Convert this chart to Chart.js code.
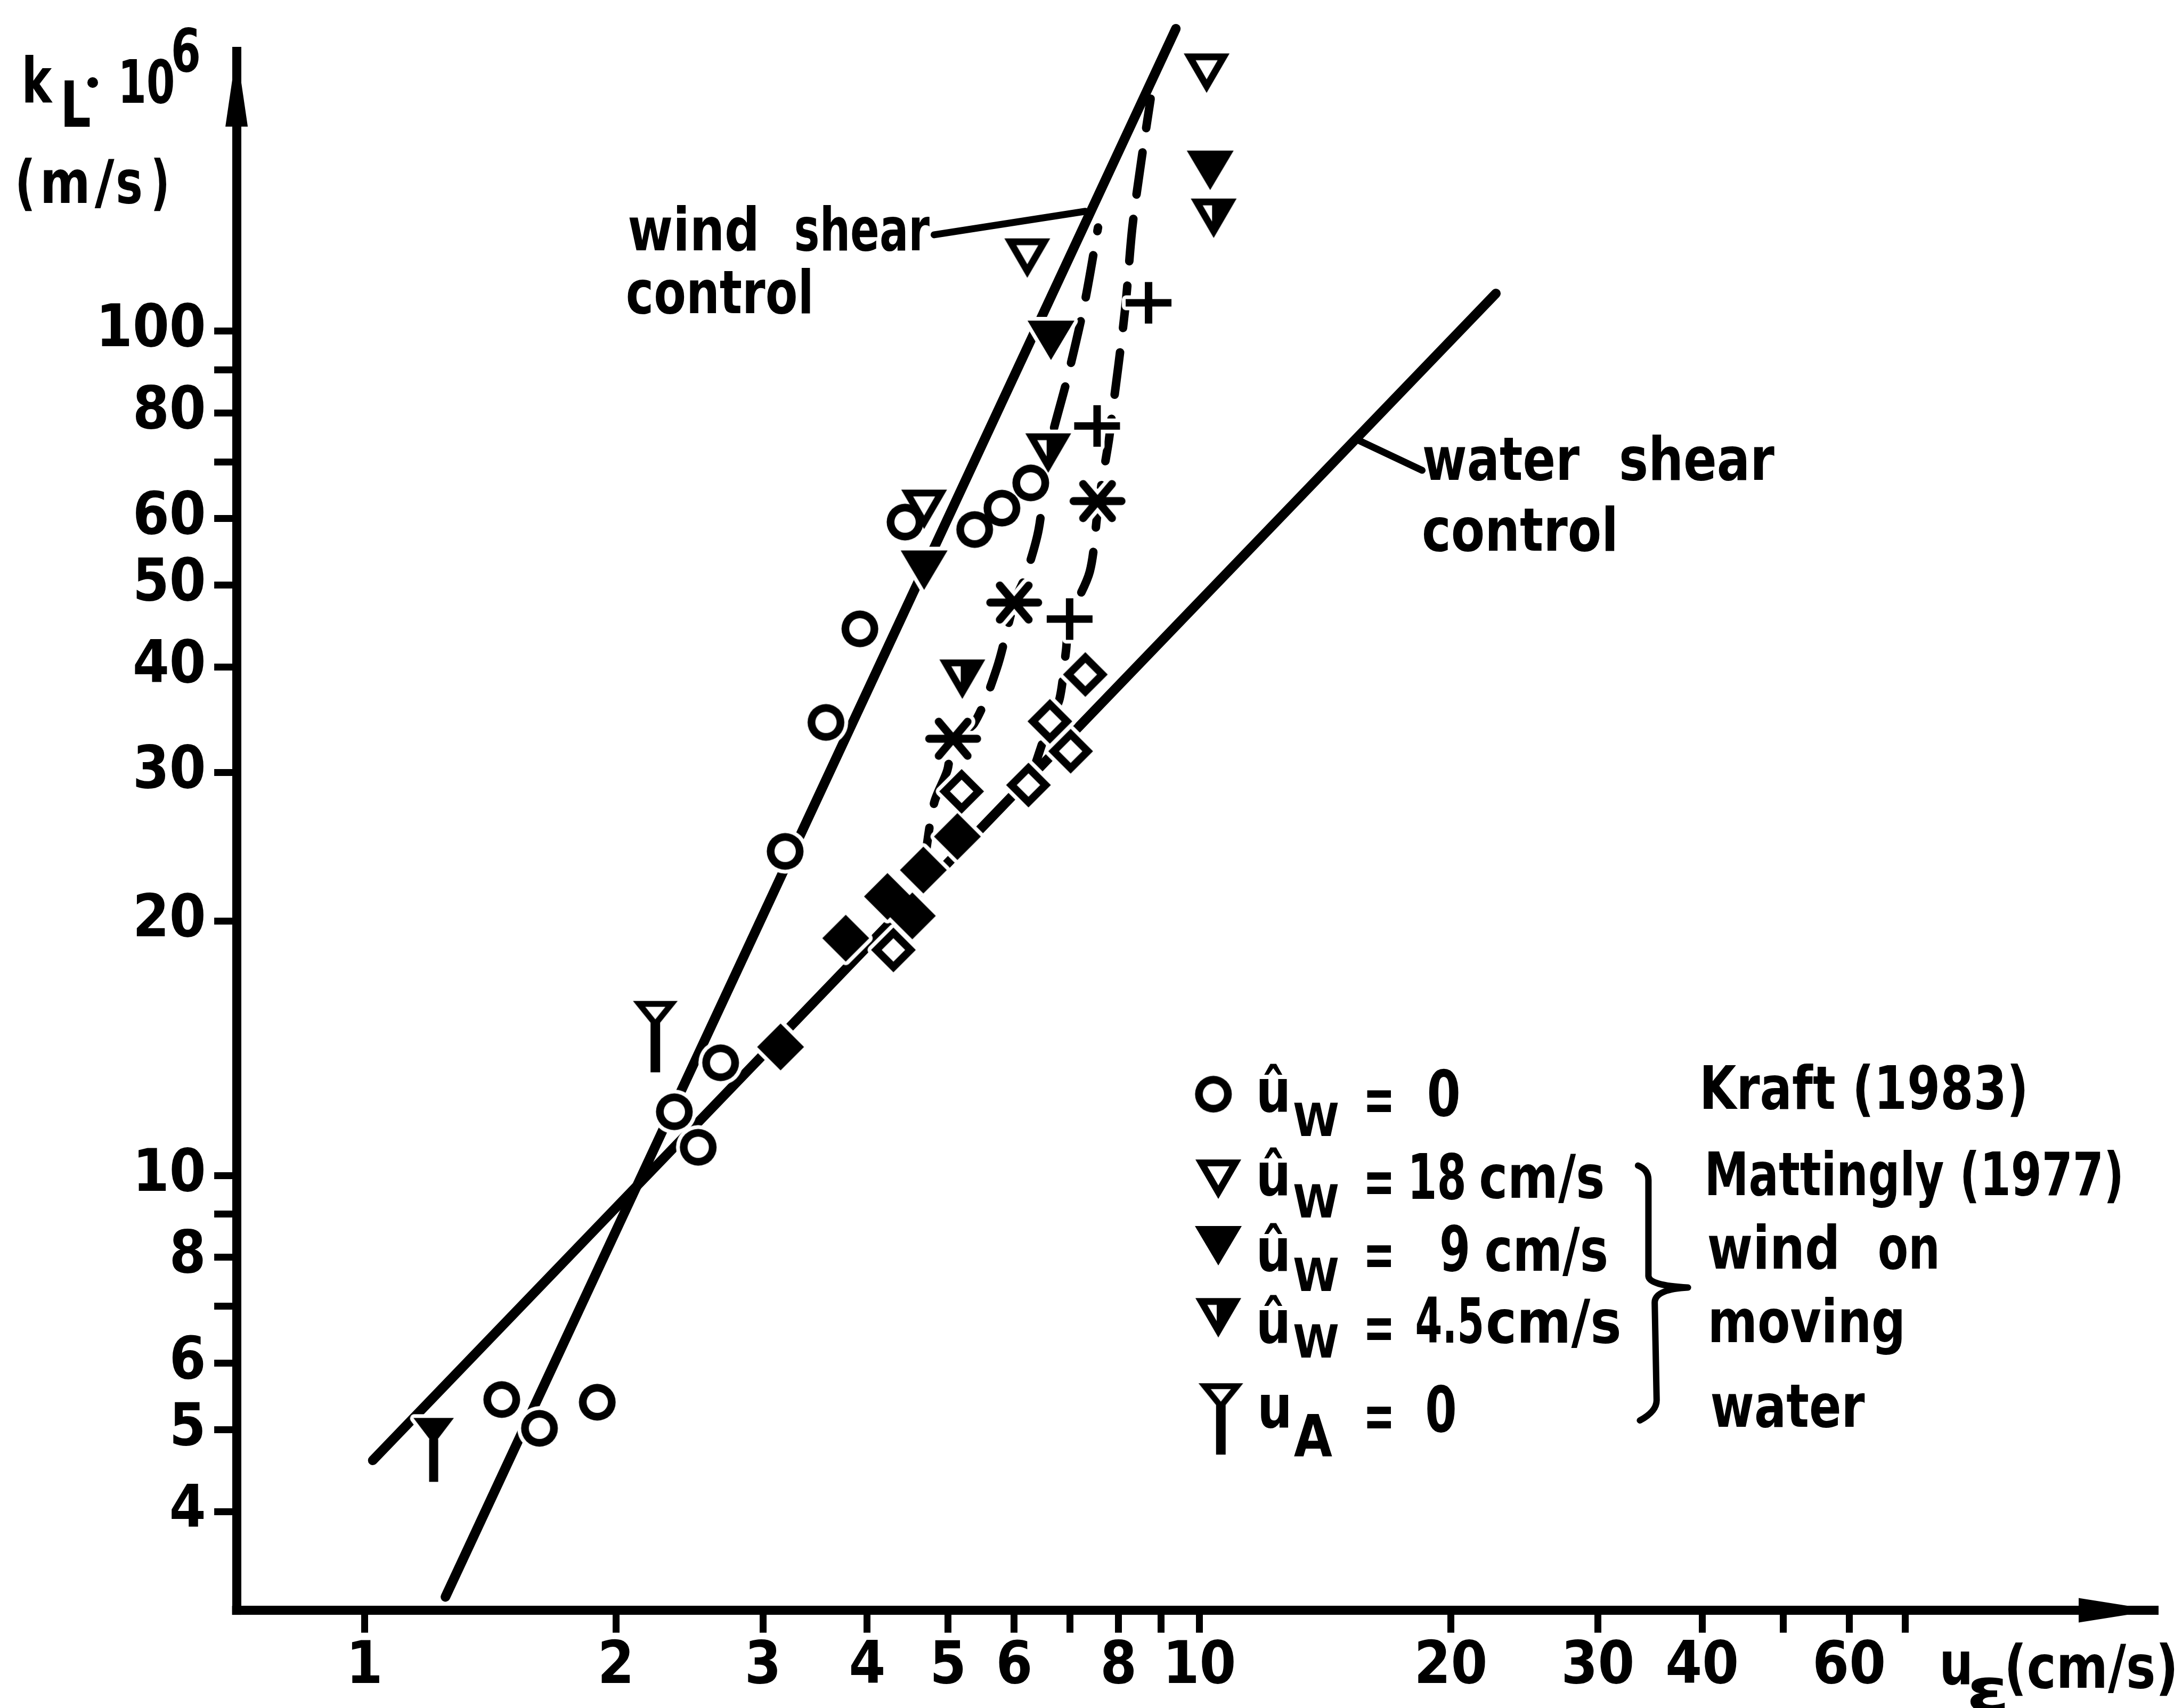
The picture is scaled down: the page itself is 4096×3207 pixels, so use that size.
<!DOCTYPE html>
<html>
<head>
<meta charset="utf-8">
<script src="https://cdn.jsdelivr.net/npm/chart.js@4.4.1/dist/chart.umd.min.js"></script>
<style>
  html, body { margin: 0; padding: 0; background: #fff; overflow: hidden; }
  #wrap { width: 4096px; height: 3207px; position: relative; }
</style>
</head>
<body>
<div id="wrap"><canvas id="c"></canvas></div>
<script>
// ---- axis ticks ----
const X_TICKS = [1, 2, 3, 4, 5, 6, 7, 8, 9, 10, 20, 30, 40, 50, 60, 70];
const X_LABELS = [1, 2, 3, 4, 5, 6, 8, 10, 20, 30, 40, 60];
const Y_TICKS = [4, 5, 6, 7, 8, 9, 10, 20, 30, 40, 50, 60, 70, 80, 90, 100];
const Y_LABELS = [4, 5, 6, 8, 10, 20, 30, 40, 50, 60, 80, 100];

// ---- measurements: u_eps (cm/s) and k_L*10^6 (m/s) ----
// Kraft (1983), u_w = 0
const KRAFT_U = [1.46, 1.62, 1.90, 2.35, 2.51, 2.67, 3.19, 3.57, 3.92, 4.44, 5.38, 5.80, 6.28];
const KRAFT_K = [5.43, 5.02, 5.39, 11.9, 10.8, 13.6, 24.2, 34.4, 44.4, 59.4, 58.2, 61.7, 66.1];
// Mattingly (1977), wind on moving water
const UW18_U = [4.68, 6.22, 10.2];
const UW18_K = [61.5, 122, 202];
const UW9_U = [4.68, 6.64, 10.3];
const UW9_K = [52.1, 97.5, 155];
const UW45_U = [5.20, 6.59, 10.4];
const UW45_K = [38.7, 71.7, 136];
const UA0_U = [2.23];
const UA0_K = [15.5];
const UA0_FILLED_U = [1.21];
const UA0_FILLED_K = [4.98];
// further series
const STAR_U = [5.07, 6.00, 7.55];
const STAR_K = [32.9, 47.7, 62.9];
const PLUS_U = [6.99, 7.54, 8.69];
const PLUS_K = [45.6, 77.2, 108];
const DIAMOND_OPEN_U = [4.30, 5.19, 6.24, 6.62, 7.01, 7.30];
const DIAMOND_OPEN_K = [18.5, 28.5, 29.0, 34.5, 31.8, 39.2];
const DIAMOND_FILLED_U = [3.15, 3.77, 4.23, 4.53, 4.67, 5.13];
const DIAMOND_FILLED_K = [14.2, 19.1, 21.4, 20.3, 23.0, 25.2];

// ---- control lines ----
const WIND_SHEAR_U = [1.25, 9.37];
const WIND_SHEAR_K = [3.17, 228];
const WATER_SHEAR_U = [1.023, 22.65];
const WATER_SHEAR_K = [4.60, 110.8];
// dashed transition curves
const CURVE_A_U = [4.67, 4.81, 4.99, 5.07, 5.37, 5.72, 6.00, 6.19, 6.42, 6.59, 6.95, 7.29, 7.56];
const CURVE_A_K = [23.0, 27.6, 30.2, 32.9, 34.3, 39.9, 47.7, 51.3, 58.3, 71.7, 88.1, 108.3, 132.6];
const CURVE_B_U = [6.24, 6.62, 6.80, 6.92, 6.99, 7.39, 7.55, 7.65, 7.79, 7.86, 8.00, 8.16, 8.31, 8.51, 8.74];
const CURVE_B_K = [29.0, 34.5, 36.7, 41.8, 45.6, 51.9, 61.0, 66.7, 74.3, 79.8, 91.3, 107.8, 132.6, 158.0, 188.4];
const CURVE_B_SPUR_U = [8.16, 8.69];
const CURVE_B_SPUR_K = [107.8, 108];
// label leader lines
const WIND_LEADER_U = [4.81, 7.30];
const WIND_LEADER_K = [130, 138.6];
const WATER_LEADER_U = [15.43, 18.48];
const WATER_LEADER_K = [74.4, 68.4];

// ---- styling ----
const TICK_FONT = "'Liberation Sans Narrow', 'DejaVu Sans Condensed', 'DejaVu Sans', sans-serif";
const TEXT_FONT = "'DejaVu Sans', sans-serif";
const HALO = 7;

// ---- marker glyphs drawn on small canvases ----
function shapeCanvas(ext, draw) {
  const n = Math.ceil(2 * (ext + HALO + 4));
  const c = document.createElement('canvas');
  c.width = c.height = n;
  const g = c.getContext('2d');
  g.translate(n / 2, n / 2);
  g.fillStyle = '#000';
  g.strokeStyle = '#000';
  draw(g);
  return c;
}
function haloOf(src) {
  const n = src.width;
  const c = document.createElement('canvas');
  c.width = c.height = n;
  const g = c.getContext('2d');
  for (const r of [HALO / 2, HALO]) {
    for (let i = 0; i < 24; i++) {
      const t = (i / 24) * Math.PI * 2;
      g.drawImage(src, Math.cos(t) * r, Math.sin(t) * r);
    }
  }
  g.drawImage(src, 0, 0);
  g.globalCompositeOperation = 'source-in';
  g.fillStyle = '#fff';
  g.fillRect(0, 0, n, n);
  return c;
}
function triPath(g, w, h) {
  g.beginPath();
  g.moveTo(-w / 2, -h / 2);
  g.lineTo(w / 2, -h / 2);
  g.lineTo(0, h / 2);
  g.closePath();
}
function innerTriPath(g, w, h, s) {
  const side = Math.hypot(w / 2, h);
  const r = (w * h) / (w + 2 * side);
  const iy = -h / 2 + r;
  const p = [[-w / 2, -h / 2], [w / 2, -h / 2], [0, h / 2]].map(([x, y]) => [s * x, iy + s * (y - iy)]);
  g.beginPath();
  g.moveTo(p[0][0], p[0][1]);
  g.lineTo(p[1][0], p[1][1]);
  g.lineTo(p[2][0], p[2][1]);
  g.closePath();
}
function diamondPath(g, r) {
  g.beginPath();
  g.moveTo(0, -r); g.lineTo(r, 0); g.lineTo(0, r); g.lineTo(-r, 0);
  g.closePath();
}

const GLYPH = {
  circle: shapeCanvas(35, g => {
    g.beginPath(); g.arc(0, 0, 34.5, 0, Math.PI * 2); g.fill();
    g.fillStyle = '#fff';
    g.beginPath(); g.arc(0, 0, 20, 0, Math.PI * 2); g.fill();
  }),
  triOpen: shapeCanvas(44, g => {
    triPath(g, 86, 74); g.fill();
    g.fillStyle = '#fff'; innerTriPath(g, 86, 74, 0.48); g.fill();
  }),
  triFilled: shapeCanvas(45, g => { triPath(g, 88, 74); g.fill(); }),
  triHalf: shapeCanvas(44, g => {
    triPath(g, 86, 74); g.fill();
    g.save();
    g.beginPath(); g.rect(-60, -60, 57, 120); g.clip();
    g.fillStyle = '#fff'; innerTriPath(g, 86, 74, 0.48); g.fill();
    g.restore();
  }),
  yOpen: shapeCanvas(110, g => {
    triPath(g, 84, 52); g.fill();
    g.fillRect(-9, 15, 18, 93);
    g.fillStyle = '#fff'; innerTriPath(g, 84, 52, 0.45); g.fill();
  }),
  yFilled: shapeCanvas(98, g => {
    triPath(g, 76, 50); g.fill();
    g.fillRect(-8.5, 15, 17, 80);
  }),
  star: shapeCanvas(50, g => {
    g.lineWidth = 15; g.lineCap = 'round';
    g.beginPath();
    g.moveTo(-45, 0); g.lineTo(45, 0);
    g.moveTo(-27, -32); g.lineTo(27, 32);
    g.moveTo(27, -32); g.lineTo(-27, 32);
    g.stroke();
  }),
  plus: shapeCanvas(46, g => {
    g.lineWidth = 14;
    g.beginPath();
    g.moveTo(-43, 0); g.lineTo(43, 0);
    g.moveTo(0, -39); g.lineTo(0, 39);
    g.stroke();
  }),
  diamondOpen: shapeCanvas(44, g => {
    diamondPath(g, 42); g.fill();
    g.fillStyle = '#fff'; diamondPath(g, 22); g.fill();
  }),
  diamondFilled: shapeCanvas(46, g => { diamondPath(g, 44); g.fill(); }),
};

// ---- datasets ----
const pts = (us, ks) => us.map((u, i) => ({ x: u, y: ks[i] }));
function markerSets(us, ks, glyph) {
  return [
    { data: pts(us, ks), showLine: false, pointStyle: glyph, pointRadius: 10, order: 0, clip: false },
    { data: pts(us, ks), showLine: false, pointStyle: haloOf(glyph), pointRadius: 10, order: 1, clip: false },
  ];
}
function lineSet(us, ks, width, dash, tension) {
  return {
    data: pts(us, ks), showLine: true, borderColor: '#000', borderWidth: width,
    borderDash: dash || [], borderCapStyle: 'round', borderJoinStyle: 'round',
    tension: tension || 0, pointRadius: 0, fill: false, order: 2, clip: false,
  };
}

const datasets = [
  lineSet(WIND_SHEAR_U, WIND_SHEAR_K, 18),
  lineSet(WATER_SHEAR_U, WATER_SHEAR_K, 18),
  lineSet(CURVE_A_U, CURVE_A_K, 16, [80, 46], 0.3),
  lineSet(CURVE_B_U, CURVE_B_K, 16, [80, 46], 0.3),
  lineSet(CURVE_B_SPUR_U, CURVE_B_SPUR_K, 14),
  lineSet(WIND_LEADER_U, WIND_LEADER_K, 13),
  lineSet(WATER_LEADER_U, WATER_LEADER_K, 13),
  ...markerSets(KRAFT_U, KRAFT_K, GLYPH.circle),
  ...markerSets(UW18_U, UW18_K, GLYPH.triOpen),
  ...markerSets(UW9_U, UW9_K, GLYPH.triFilled),
  ...markerSets(UW45_U, UW45_K, GLYPH.triHalf),
  ...markerSets(UA0_U, UA0_K, GLYPH.yOpen),
  ...markerSets(UA0_FILLED_U, UA0_FILLED_K, GLYPH.yFilled),
  ...markerSets(STAR_U, STAR_K, GLYPH.star),
  ...markerSets(PLUS_U, PLUS_K, GLYPH.plus),
  ...markerSets(DIAMOND_OPEN_U, DIAMOND_OPEN_K, GLYPH.diamondOpen),
  ...markerSets(DIAMOND_FILLED_U, DIAMOND_FILLED_K, GLYPH.diamondFilled),
];

// ---- text helpers ----
function fitText(ctx, s, x0, x1, y, size, mode) {
  ctx.font = `bold ${size}px ${TEXT_FONT}`;
  ctx.textAlign = 'left';
  ctx.textBaseline = 'alphabetic';
  const m = ctx.measureText(s);
  const ink = m.actualBoundingBoxLeft + m.actualBoundingBoxRight;
  const k = (x1 - x0) / ink;
  const base = mode === 'mid' ? y + (m.actualBoundingBoxAscent - m.actualBoundingBoxDescent) / 2 : y;
  ctx.save();
  ctx.translate(x0 + m.actualBoundingBoxLeft * k, base);
  ctx.scale(k, 1);
  ctx.fillText(s, 0, 0);
  ctx.restore();
}

// [text, left, right, baseline, size, mode]
const TEXTS = [
  // axis titles
  ['k', 47, 99, 193.3, 118],
  ['L', 121.4, 169, 237.8, 120],
  ['10', 229.8, 325.1, 193.1, 112],
  ['6', 325.1, 372.8, 133.7, 112],
  ['(', 34.7, 60.7, 381, 112],
  ['m', 82.4, 162.6, 381, 112],
  ['/', 177.7, 214.7, 381, 112],
  ['s', 221.1, 264.4, 381, 112],
  [')', 288.3, 312.2, 381, 112],
  ['u', 3646.6, 3697, 3162.4, 112],
  ['\u03b5', 3698.9, 3764.2, 3212, 112],
  ['(cm/s)', 3769.4, 4081.6, 3168.6, 112],
  // line annotations
  ['wind', 1180.7, 1418.4, 470.2, 112],
  ['shear', 1494.2, 1745, 470.2, 112],
  ['control', 1178, 1520.3, 587.7, 112],
  ['water', 2672.3, 2964.8, 901.2, 112],
  ['shear', 3043.2, 3330.6, 901.2, 112],
  ['control', 2672.3, 3030.2, 1034.4, 112],
  // legend, left column
  ['\u00fb', 2364, 2416, 2087.1, 112],
  ['W', 2428.8, 2512.2, 2132.9, 86],
  ['=', 2566, 2611, 2067, 120, 'mid'],
  ['0', 2682.2, 2737.6, 2094.7, 120],
  ['\u00fb', 2364, 2416, 2243.9, 112],
  ['W', 2428.8, 2512.2, 2285.7, 86],
  ['=', 2566, 2611, 2221, 120, 'mid'],
  ['18', 2651.1, 2748, 2250.9, 118],
  ['cm/s', 2779.4, 3008.5, 2249, 112],
  ['\u00fb', 2364, 2416, 2386, 112],
  ['W', 2428.8, 2512.2, 2424.1, 86],
  ['=', 2566, 2611, 2358.3, 120, 'mid'],
  ['9', 2706.2, 2755.1, 2386, 118],
  ['cm/s', 2789.8, 3015.3, 2386, 112],
  ['\u00fb', 2364, 2416, 2521.3, 112],
  ['W', 2428.8, 2512.2, 2548.5, 86],
  ['=', 2566, 2611, 2495.3, 120, 'mid'],
  ['4.5', 2659.7, 2781.2, 2521, 118],
  ['cm/s', 2792.4, 3039.6, 2521, 112],
  ['u', 2366.6, 2418.6, 2680.1, 112],
  ['A', 2428.8, 2501.4, 2733.7, 108],
  ['=', 2566, 2611, 2661.8, 120, 'mid'],
  ['0', 2678.8, 2730.8, 2688, 120],
  // legend, right column
  ['Kraft (1983)', 3198.1, 3800.5, 2081.9, 112],
  ['Mattingly (1977)', 3207, 3980.2, 2243.9, 112],
  ['wind', 3207, 3446.8, 2382.3, 112],
  ['on', 3527.8, 3635.4, 2382.3, 112],
  ['moving', 3213, 3569.8, 2520, 112],
  ['water', 3213, 3500.3, 2678.8, 112],
];

const LEGEND_GLYPHS = [
  [GLYPH.circle, 2277.8, 2054.5],
  [GLYPH.triOpen, 2287, 2214.1],
  [GLYPH.triFilled, 2287, 2339],
  [GLYPH.triHalf, 2287, 2474.3],
  [GLYPH.yOpen, 2291.7, 2623.2],
];

const decor = {
  id: 'decor',
  afterDraw(chart) {
    const ctx = chart.ctx;
    const a = chart.chartArea;
    ctx.save();
    ctx.fillStyle = '#000';
    ctx.strokeStyle = '#000';
    // axis corner and arrow heads
    ctx.fillRect(a.left - 8.5, a.bottom - 8.5, 17, 17);
    ctx.beginPath();
    ctx.moveTo(a.left, a.top - 2);
    ctx.lineTo(a.left + 21, a.top + 141);
    ctx.lineTo(a.left - 21, a.top + 141);
    ctx.closePath();
    ctx.fill();
    ctx.beginPath();
    ctx.moveTo(a.right + 2, a.bottom);
    ctx.lineTo(a.right - 143, a.bottom - 23);
    ctx.lineTo(a.right - 143, a.bottom + 23);
    ctx.closePath();
    ctx.fill();
    // multiplication dot in the y title
    ctx.beginPath();
    ctx.arc(174, 155, 10, 0, Math.PI * 2);
    ctx.fill();
    // texts
    for (const [s, x0, x1, y, size, mode] of TEXTS) fitText(ctx, s, x0, x1, y, size, mode);
    // legend symbols
    for (const [img, x, y] of LEGEND_GLYPHS) ctx.drawImage(img, x - img.width / 2, y - img.height / 2);
    // brace grouping the Mattingly entries
    ctx.lineWidth = 12;
    ctx.lineCap = 'round';
    ctx.lineJoin = 'round';
    ctx.beginPath();
    ctx.moveTo(3074.9, 2188.5);
    ctx.quadraticCurveTo(3094.4, 2196, 3094.4, 2216);
    ctx.lineTo(3094.4, 2396);
    ctx.quadraticCurveTo(3096, 2414, 3168.6, 2417.5);
    ctx.quadraticCurveTo(3106, 2421, 3106.2, 2446);
    ctx.lineTo(3109.8, 2628.8);
    ctx.quadraticCurveTo(3110, 2650, 3078.4, 2667);
    ctx.stroke();
    ctx.restore();
  },
};

const tickFont = { family: TICK_FONT, size: 110, weight: 'bold', lineHeight: 1 };

new Chart(document.getElementById('c'), {
  type: 'scatter',
  data: { datasets },
  options: {
    responsive: true,
    maintainAspectRatio: false,
    devicePixelRatio: 1,
    animation: false,
    events: [],
    layout: { autoPadding: false, padding: { top: 96.65, right: 51, bottom: 0, left: 0 } },
    plugins: { legend: { display: false }, tooltip: { enabled: false } },
    scales: {
      x: {
        type: 'logarithmic',
        position: 'bottom',
        min: 0.7027,
        max: 139.4,
        bounds: 'data',
        afterBuildTicks: s => { s.ticks = X_TICKS.map(v => ({ value: v })); },
        afterFit: s => { s.height = 183.4; },
        ticks: {
          autoSkip: false, maxRotation: 0, minRotation: 0, padding: 11, color: '#000', font: tickFont,
          callback: v => (X_LABELS.includes(v) ? String(v) : ''),
        },
        grid: { display: true, drawOnChartArea: false, drawTicks: true, tickLength: 42, color: '#000', lineWidth: 13 },
        border: { display: true, color: '#000', width: 17 },
      },
      y: {
        type: 'logarithmic',
        position: 'left',
        min: 3.0561,
        max: 214.3,
        bounds: 'data',
        afterBuildTicks: s => { s.ticks = Y_TICKS.map(v => ({ value: v })); },
        afterFit: s => { s.width = 444.1; },
        ticks: {
          autoSkip: false, padding: 15.5, color: '#000', font: tickFont,
          callback: v => (Y_LABELS.includes(v) ? String(v) : ''),
        },
        grid: { display: true, drawOnChartArea: false, drawTicks: true, tickLength: 42, color: '#000', lineWidth: 13 },
        border: { display: true, color: '#000', width: 17 },
      },
    },
  },
  plugins: [decor],
});
</script>
</body>
</html>
